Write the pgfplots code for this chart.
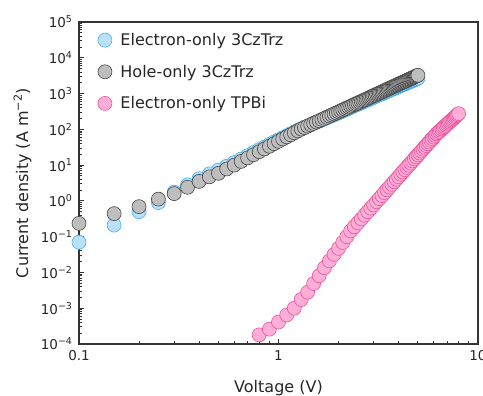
\documentclass[border=0pt]{standalone}
\usepackage{pgfplots}
\usepackage{pgfplotstable}
\pgfplotsset{compat=1.18}
\usepackage{fontspec}
\setmainfont{DejaVu Sans}
\definecolor{bfill}{RGB}{185,226,250}
\definecolor{bedge}{RGB}{70,175,235}
\definecolor{gfill}{RGB}{190,190,190}
\definecolor{gedge}{RGB}{70,70,70}
\definecolor{pfill}{RGB}{255,175,215}
\definecolor{pedge}{RGB}{238,80,155}

\pgfplotstableread{
V J
0.10 0.07
0.15 0.21
0.20 0.50
0.25 0.90
0.30 1.75
0.35 2.8
0.40 4.2
0.45 5.7
0.50 7.2
0.55 9.3
0.60 11.8
0.65 14.8
0.70 18.4
0.75 22.4
0.80 27
0.85 32
0.90 38
0.95 44
1.00 51
1.05 58
1.10 66
1.15 75
1.20 84
1.25 94
1.30 104
1.35 114
1.40 124
1.45 135
1.50 146
1.55 158
1.60 170
1.65 183
1.70 196
1.75 210
1.80 225
1.85 240
1.90 256
1.95 272
2.00 289
2.05 305
2.10 325
2.15 345
2.20 365
2.25 388
2.30 410
2.35 433
2.40 458
2.45 483
2.50 500
2.55 525
2.60 553
2.65 580
2.70 608
2.75 639
2.80 658
2.85 689
2.90 720
2.95 752
3.00 786
3.05 819
3.10 854
3.15 890
3.20 927
3.25 965
3.30 980
3.35 1019
3.40 1060
3.45 1100
3.50 1141
3.55 1184
3.60 1227
3.65 1272
3.70 1316
3.75 1363
3.80 1379
3.85 1425
3.90 1473
3.95 1522
4.00 1572
4.05 1623
4.10 1674
4.15 1727
4.20 1781
4.25 1837
4.30 1849
4.35 1904
4.40 1961
4.45 2019
4.50 2077
4.55 2138
4.60 2199
4.65 2261
4.70 2297
4.75 2360
4.80 2424
4.85 2489
4.90 2556
4.95 2623
5.00 2692
}\electron

\pgfplotstableread{
V J
0.10 0.235
0.15 0.44
0.20 0.69
0.25 1.12
0.30 1.6
0.35 2.4
0.40 3.5
0.45 4.7
0.50 5.9
0.55 7.8
0.60 10.0
0.65 12.7
0.70 15.9
0.75 19.5
0.80 23.7
0.85 28.4
0.90 33.7
0.95 39.7
1.00 46.3
1.05 53.7
1.10 61.7
1.15 70.5
1.20 80.1
1.25 90.5
1.30 101.7
1.35 112
1.40 123
1.45 135
1.50 147
1.55 160
1.60 173
1.65 188
1.70 203
1.75 218
1.80 235
1.85 252
1.90 270
1.95 288
2.00 308
2.05 328
2.10 349
2.15 371
2.20 393
2.25 417
2.30 441
2.35 466
2.40 492
2.45 519
2.50 546
2.55 574
2.60 604
2.65 634
2.70 665
2.75 698
2.80 731
2.85 765
2.90 800
2.95 836
3.00 873
3.05 910
3.10 949
3.15 989
3.20 1030
3.25 1072
3.30 1114
3.35 1158
3.40 1204
3.45 1250
3.50 1297
3.55 1345
3.60 1394
3.65 1445
3.70 1496
3.75 1549
3.80 1603
3.85 1657
3.90 1713
3.95 1770
4.00 1828
4.05 1887
4.10 1947
4.15 2008
4.20 2071
4.25 2136
4.30 2201
4.35 2267
4.40 2335
4.45 2403
4.50 2473
4.55 2545
4.60 2618
4.65 2692
4.70 2767
4.75 2843
4.80 2920
4.85 2999
4.90 3079
4.95 3160
5.00 3243
}\hole

\pgfplotstableread{
V J
0.8 1.8e-4
0.9 2.6e-4
1.0 4.1e-4
1.1 6.5e-4
1.2 1.0e-3
1.3 1.75e-3
1.4 2.8e-3
1.5 4.9e-3
1.6 8.1e-3
1.7 0.0135
1.8 0.021
1.9 0.032
2.0 0.047
2.1 0.069
2.2 0.100
2.3 0.145
2.4 0.189
2.5 0.244
2.6 0.313
2.7 0.397
2.8 0.500
2.9 0.623
3.0 0.771
3.1 0.949
3.2 1.157
3.3 1.405
3.4 1.697
3.5 2.04
3.6 2.43
3.7 2.89
3.8 3.42
3.9 4.03
4.0 4.73
4.1 5.52
4.2 6.42
4.3 7.45
4.4 8.61
4.5 9.93
4.6 11.4
4.7 13.1
4.8 14.9
4.9 17.0
5.0 19.3
5.1 21.8
5.2 24.7
5.3 27.8
5.4 31.3
5.5 35.2
5.6 39.4
5.7 44.0
5.8 49.1
5.9 54.7
6.0 60.8
6.1 67.4
6.2 74.7
6.3 80.9
6.4 87.7
6.5 95.0
6.6 102.6
6.7 110.9
6.8 119.6
6.9 128.8
7.0 138.6
7.1 149.0
7.2 159.9
7.3 171.7
7.4 184.0
7.5 197.2
7.6 210.9
7.7 225.4
7.8 241.0
7.9 257.0
8.0 274.2
}\tpbi

\begin{document}
\begin{tikzpicture}
\begin{axis}[
  xmode=log, ymode=log,
  scale only axis, width=399pt, height=322pt,
  xmin=0.1, xmax=10, ymin=1e-4, ymax=1e5,
  xtick={0.1,1,10}, xticklabels={0.1,1,10},
  ytick={1e-4,1e-3,1e-2,1e-1,1,10,100,1000,1e4,1e5},
  yticklabels={10\textsuperscript{−4},10\textsuperscript{−3},10\textsuperscript{−2},10\textsuperscript{−1},10\textsuperscript{0},10\textsuperscript{1},10\textsuperscript{2},10\textsuperscript{3},10\textsuperscript{4},10\textsuperscript{5}},
  xtick pos=left, ytick pos=left,
  tick align=inside,
  major tick length=5pt, minor tick length=3pt,
  axis line style={line width=1.2pt, black!80},
  every tick/.style={black!80, line width=0.9pt},
  tick label style={font=\fontsize{13.5}{16}\selectfont, black!85},
  xticklabel style={yshift=-3pt},
  yticklabel style={xshift=-3pt},
  label style={font=\fontsize{16}{19}\selectfont, black!85},
  xlabel={Voltage (V)},
  ylabel={Current density (A m\textsuperscript{−2})},
  xlabel style={at={(axis description cs:0.5,0)}, anchor=base, yshift=-48.5pt},
  ylabel style={at={(axis description cs:0,0.5)}, anchor=south, yshift=44pt},
  legend style={draw=none, fill=none, font=\fontsize{16}{19}\selectfont, text=black!85,
    at={(axis description cs:0.0345,0.978)}, anchor=north west, row sep=14pt},
  legend cell align=left,
  legend image code/.code={\path[draw=none,fill=none] (0pt,-7pt) rectangle (22.5pt,7pt);
    \draw[#1] plot coordinates {(9pt,0pt)};},
]
\addplot[only marks, mark=*, mark size=7pt, mark options={fill=bfill, draw=bedge, line width=0.6pt}] table[x=V,y=J] {\electron};
\addlegendentry{Electron-only 3CzTrz}
\addplot[only marks, mark=*, mark size=7pt, mark options={fill=gfill, draw=gedge, line width=0.6pt}] table[x=V,y=J] {\hole};
\addlegendentry{Hole-only 3CzTrz}
\addplot[only marks, mark=*, mark size=7pt, mark options={fill=pfill, draw=pedge, line width=0.6pt}] table[x=V,y=J] {\tpbi};
\addlegendentry{Electron-only TPBi}
\end{axis}
\pgfresetboundingbox
\path[use as bounding box] (-79pt,-52pt) rectangle (404pt,344pt);
\end{tikzpicture}
\end{document}
